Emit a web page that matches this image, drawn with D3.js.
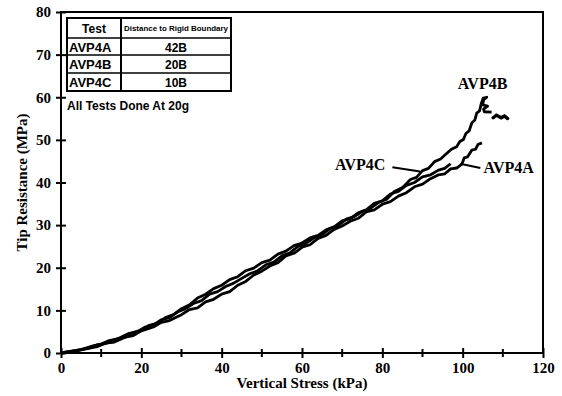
<!DOCTYPE html>
<html>
<head>
<meta charset="utf-8">
<script src="https://cdn.jsdelivr.net/npm/d3@7"></script>
<style>
  body { margin: 0; background: #fff; }
  svg { display: block; }
  .tick text { font-family: "Liberation Serif", "Times New Roman", serif; font-weight: bold; font-size: 15px; }
</style>
</head>
<body>
<script>
// data (kPa, MPa)
var avp4a = [[0,0],[3,0.3],[6,0.9],[9,1.5],[11,2.3],[13,2.5],[16,3.7],[18,4.1],[20,5.2],[23,6.1],[25,7.2],[27,7.6],[30,9.0],[32,10.2],[34,10.6],[36,12.0],[38,12.6],[40,13.8],[42,14.4],[44,15.9],[46,16.8],[48,18.3],[50,19.2],[52,20.4],[54,21.2],[56,22.8],[58,23.4],[60,24.8],[62,25.4],[64,26.9],[66,27.6],[68,29.0],[70,29.8],[72,30.9],[74,31.6],[76,33.1],[78,33.6],[80,34.9],[82,35.5],[84,36.8],[86,37.6],[88,39.0],[90,39.6],[92,40.9],[94,41.8],[95.5,42.0],[97,43.2],[98.5,43.4],[99.8,44.3],[100.4,45.8],[101.2,46.0],[102.3,47.6],[103.2,47.8],[103.8,48.9],[104.8,49.3]];
var avp4b = [[0,0],[3,0.5],[5,0.8],[8,1.7],[10,2.1],[12,2.9],[14,3.3],[17,4.6],[19,5.0],[21,6.1],[23,6.6],[25,7.8],[27,8.3],[29,9.6],[31,10.4],[33,11.6],[35,12.3],[37,13.8],[39,14.4],[41,15.6],[43,16.4],[45,17.5],[47,18.6],[49,19.3],[51,20.7],[53,21.3],[55,22.8],[57,23.5],[59,25.0],[61,25.7],[63,27.0],[65,27.8],[67,29.2],[69,29.9],[71,31.4],[73,32.0],[75,33.2],[77,33.9],[79,35.3],[81,36.0],[83,37.9],[85,38.8],[87,40.7],[88.5,41.2],[90,42.8],[91.5,43.3],[93,44.9],[94.5,45.5],[96,46.8],[97.2,47.8],[98.5,48.4],[99.3,49.6],[100.2,50.1],[100.8,51.5],[101.6,52.1],[102.3,54.0],[103.0,54.6],[103.5,56.3],[104.2,56.8],[104.6,58.4],[105.1,59.8],[106.0,60.0],[105.2,59.4],[105.0,58.2],[106.2,57.9],[105.2,57.2],[105.4,56.6],[107.2,56.5]];
var avp4bTail = [[107.6,55.2],[108.4,55.8],[109.6,55.2],[110.4,55.6],[111.2,55.0]];
var avp4c = [[0,0],[4,0.6],[7,1.2],[9,1.9],[11,2.2],[14,3.3],[16,3.7],[18,4.8],[20,5.4],[22,6.5],[24,7.0],[26,8.3],[28,9.0],[30,10.4],[32,11.3],[34,12.9],[36,13.8],[38,15.1],[40,15.9],[42,17.2],[44,17.9],[46,19.3],[48,19.9],[50,21.2],[52,21.8],[54,23.2],[56,23.9],[58,25.2],[60,25.8],[62,27.0],[64,27.6],[66,28.9],[68,29.6],[70,31.0],[72,31.5],[74,32.9],[76,33.6],[78,35.1],[80,35.7],[82,37.3],[84,37.9],[86,39.3],[88,40.0],[90,41.3],[92,41.8],[94,42.9],[95.5,43.3],[97,44.4]];

var xTicks = [0, 20, 40, 60, 80, 100, 120];
var xMinor = [10, 30, 50, 70, 90, 110];
var yTicks = [0, 10, 20, 30, 40, 50, 60, 70, 80];

var tableHead = ["Test", "Distance to Rigid Boundary"];
var tableTests = ["AVP4A", "AVP4B", "AVP4C"];
var tableDist = ["42B", "20B", "10B"];

var margin = {top: 12, right: 19, bottom: 43, left: 61},
    width = 562 - margin.left - margin.right,
    height = 396 - margin.top - margin.bottom;

var x = d3.scaleLinear().domain([0, 120]).range([0, width]);
var y = d3.scaleLinear().domain([0, 80]).range([height, 0]);

var svg = d3.select("body").append("svg")
    .attr("width", 562)
    .attr("height", 396)
    .append("g")
    .attr("transform", "translate(" + margin.left + "," + margin.top + ")");

var line = d3.line()
    .x(function(d) { return x(d[0]); })
    .y(function(d) { return y(d[1]); });

// frame
svg.append("rect")
    .attr("width", width)
    .attr("height", height)
    .attr("fill", "none")
    .attr("stroke", "#000")
    .attr("stroke-width", 2);

// x axis
var xAxis = svg.append("g")
    .attr("transform", "translate(0," + height + ")")
    .call(d3.axisBottom(x).tickValues(xTicks).tickSize(5).tickPadding(4));
xAxis.select(".domain").remove();
xAxis.selectAll(".tick line").attr("stroke-width", 2).attr("y1", -5);
svg.append("g")
    .attr("transform", "translate(0," + height + ")")
    .selectAll("line")
    .data(xMinor)
    .enter().append("line")
    .attr("x1", function(d) { return x(d); })
    .attr("x2", function(d) { return x(d); })
    .attr("y1", -4)
    .attr("y2", 4)
    .attr("stroke", "#000")
    .attr("stroke-width", 2);

// y axis
var yAxis = svg.append("g")
    .call(d3.axisLeft(y).tickValues(yTicks).tickSize(5).tickPadding(4));
yAxis.select(".domain").remove();
yAxis.selectAll(".tick line").attr("stroke-width", 2).attr("x1", 5);
yAxis.selectAll(".tick text").attr("dx", "-1px");

// axis titles
svg.append("text")
    .attr("x", width / 2)
    .attr("y", height + 35)
    .attr("text-anchor", "middle")
    .style("font-family", "Liberation Serif, serif")
    .style("font-weight", "bold")
    .style("font-size", "15px")
    .text("Vertical Stress (kPa)");

svg.append("text")
    .attr("transform", "rotate(-90)")
    .attr("x", -height / 2)
    .attr("y", -34)
    .attr("text-anchor", "middle")
    .style("font-family", "Liberation Serif, serif")
    .style("font-weight", "bold")
    .style("font-size", "15px")
    .text("Tip Resistance (MPa)");

// the curves
[avp4a, avp4b, avp4c].forEach(function(s) {
    svg.append("path")
        .attr("d", line(s))
        .attr("fill", "none")
        .attr("stroke", "#000")
        .attr("stroke-width", 2.8)
        .attr("stroke-linejoin", "round");
});
svg.append("path")
    .attr("d", line(avp4bTail))
    .attr("fill", "none")
    .attr("stroke", "#000")
    .attr("stroke-width", 3.4)
    .attr("stroke-linecap", "round");

// curve labels with leader lines
var labelFont = function(t) {
    t.style("font-family", "Liberation Serif, serif")
     .style("font-weight", "bold")
     .style("font-size", "16px");
};
svg.append("text").attr("x", x(98.8)).attr("y", y(62.0)).call(labelFont).text("AVP4B");
svg.append("text").attr("x", x(68.2)).attr("y", y(42.9)).call(labelFont).text("AVP4C");
svg.append("text").attr("x", x(105.2)).attr("y", y(42.2)).call(labelFont).text("AVP4A");
svg.append("line")
    .attr("x1", x(82.5)).attr("y1", y(43.6))
    .attr("x2", x(89.4)).attr("y2", y(42.6))
    .attr("stroke", "#000").attr("stroke-width", 2);
svg.append("line")
    .attr("x1", x(99.4)).attr("y1", y(44.4))
    .attr("x2", x(104.4)).attr("y2", y(43.4))
    .attr("stroke", "#000").attr("stroke-width", 2);

// info table
var tx = 6, ty = 6, tw = 164, colX = 54,
    rowH = [20, 17, 18, 18];
var table = svg.append("g").attr("transform", "translate(" + tx + "," + ty + ")");
var th = d3.sum(rowH);
table.append("rect")
    .attr("width", tw).attr("height", th)
    .attr("fill", "#fff").attr("stroke", "#000").attr("stroke-width", 2);
table.append("line")
    .attr("x1", colX).attr("x2", colX).attr("y1", 0).attr("y2", th)
    .attr("stroke", "#000").attr("stroke-width", 2);
var acc = 0;
rowH.slice(0, 3).forEach(function(h) {
    acc += h;
    table.append("line")
        .attr("x1", 0).attr("x2", tw).attr("y1", acc).attr("y2", acc)
        .attr("stroke", "#000").attr("stroke-width", 1.5);
});
var sans = function(t, size) {
    t.style("font-family", "Liberation Sans, Arial, sans-serif")
     .style("font-weight", "bold")
     .style("font-size", size + "px");
};
table.append("text").attr("x", colX / 2).attr("y", 15).attr("text-anchor", "middle")
    .call(sans, 12).text(tableHead[0]);
table.append("text").attr("x", colX + 3).attr("y", 13)
    .attr("textLength", tw - colX - 6).attr("lengthAdjust", "spacingAndGlyphs")
    .call(sans, 8).text(tableHead[1]);
var yRow = rowH[0];
tableTests.forEach(function(name, i) {
    var h = rowH[i + 1];
    table.append("text").attr("x", 2).attr("y", yRow + h / 2 + 5)
        .call(sans, 13).text(name);
    table.append("text").attr("x", (colX + tw) / 2).attr("y", yRow + h / 2 + 5)
        .attr("text-anchor", "middle").call(sans, 12).text(tableDist[i]);
    yRow += h;
});
svg.append("text").attr("x", tx).attr("y", ty + th + 19)
    .call(sans, 12).text("All Tests Done At 20g");
</script>
</body>
</html>
